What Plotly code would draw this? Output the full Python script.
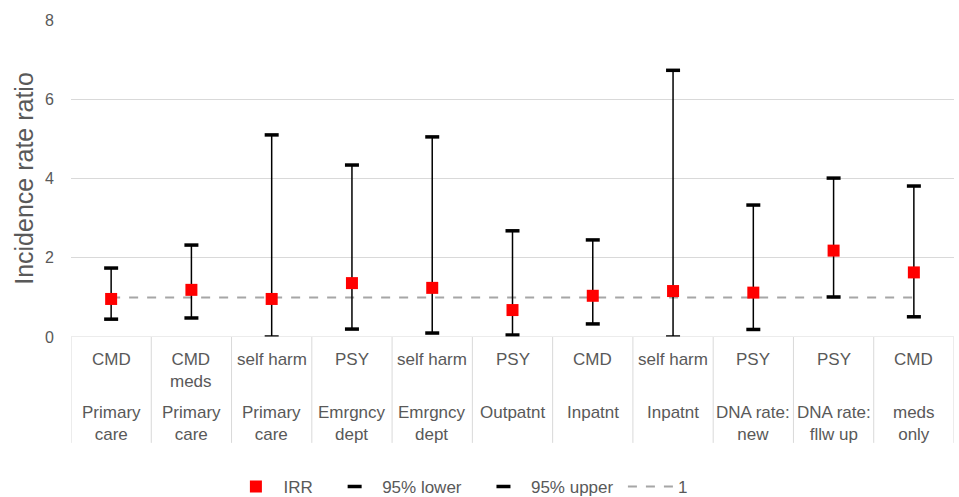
import plotly.graph_objects as go

outcomes = ["CMD", "CMD<br>meds", "self harm", "PSY", "self harm", "PSY", "CMD",
            "self harm", "PSY", "PSY", "CMD"]
settings = ["Primary<br>care", "Primary<br>care", "Primary<br>care", "Emrgncy<br>dept",
            "Emrgncy<br>dept", "Outpatnt", "Inpatnt", "Inpatnt", "DNA rate:<br>new",
            "DNA rate:<br>fllw up", "meds<br>only"]
irr = [0.96, 1.19, 0.96, 1.36, 1.24, 0.68, 1.04, 1.16, 1.12, 2.18, 1.63]
lower95 = [0.45, 0.48, 0.0, 0.20, 0.10, 0.05, 0.33, 0.0, 0.19, 1.01, 0.51]
upper95 = [1.74, 2.32, 5.10, 4.34, 5.05, 2.68, 2.45, 6.73, 3.33, 4.01, 3.81]
ref_line = [1] * len(irr)
y_ticks = [0, 2, 4, 6, 8]

x = list(range(len(irr)))
grey_txt = "#595959"
font = "Liberation Sans, Arial, sans-serif"
nb = "\u00a0"

fig = go.Figure()

# reference line at 1
fig.add_trace(go.Scatter(
    x=x, y=ref_line, mode="lines", name="1", legendrank=4,
    line=dict(color="#A6A6A6", width=2, dash="dash"), hoverinfo="skip"))

# high-low lines (no legend)
fig.add_trace(go.Scatter(
    x=x, y=lower95, mode="markers", showlegend=False,
    marker=dict(size=1, color="rgba(0,0,0,0)"),
    error_y=dict(type="data", symmetric=False,
                 array=[u - l for u, l in zip(upper95, lower95)],
                 arrayminus=[0] * len(lower95),
                 width=0, thickness=1.5, color="black"),
    hoverinfo="skip"))

fig.add_trace(go.Scatter(
    x=x, y=lower95, mode="markers", name="95% lower" + nb * 2, legendrank=2,
    marker=dict(symbol="line-ew", size=10, line=dict(width=3.5, color="black"), color="black")))
fig.add_trace(go.Scatter(
    x=x, y=upper95, mode="markers", name="95% upper" + nb, legendrank=3,
    marker=dict(symbol="line-ew", size=10, line=dict(width=3.5, color="black"), color="black")))

fig.add_trace(go.Scatter(
    x=x, y=irr, mode="markers", name="IRR" + nb * 2, legendrank=1,
    marker=dict(symbol="square", size=12, color="#FF0000", line=dict(width=0))))

annotations = []
for i in x:
    annotations.append(dict(x=i, y=0, xref="x", yref="paper", yanchor="top", yshift=-11,
                            text=outcomes[i], showarrow=False,
                            font=dict(size=17, color=grey_txt, family=font)))
    annotations.append(dict(x=i, y=0, xref="x", yref="paper", yanchor="top", yshift=-64,
                            text=settings[i], showarrow=False,
                            font=dict(size=17, color=grey_txt, family=font)))

shapes = []
for i in range(len(irr) + 1):
    shapes.append(dict(type="line", xref="x", yref="paper", x0=i - 0.5, x1=i - 0.5,
                       y0=0, y1=-0.334, line=dict(color="#D9D9D9", width=1)))

fig.update_layout(
    width=959, height=497,
    margin=dict(l=71, r=5, t=20, b=160, autoexpand=False),
    paper_bgcolor="white", plot_bgcolor="white",
    font=dict(family=font, color=grey_txt, size=15),
    showlegend=True,
    legend=dict(orientation="h", x=0.441, xanchor="center",
                yref="container", y=0.02, yanchor="middle", itemwidth=45,
                font=dict(size=17, color=grey_txt), traceorder="normal"),
    annotations=annotations, shapes=shapes,
    xaxis=dict(range=[-0.5, len(irr) - 0.5], showticklabels=False, showgrid=False,
               zeroline=False, showline=False, ticks="", automargin=False),
    yaxis=dict(range=[0, 8], tickvals=y_ticks, showgrid=True, gridcolor="#D9D9D9",
               gridwidth=1, zeroline=False, showline=False, ticks="", automargin=False,
               tickfont=dict(size=16, color=grey_txt), ticklabelstandoff=16,
               title=dict(text="Incidence rate ratio", font=dict(size=25, color=grey_txt),
                          standoff=4)),
)
fig.add_hline(y=0, line=dict(color="#D9D9D9", width=1))

fig.write_html("out.html", config={"displayModeBar": False},
               post_script="document.body.style.margin='0';")
